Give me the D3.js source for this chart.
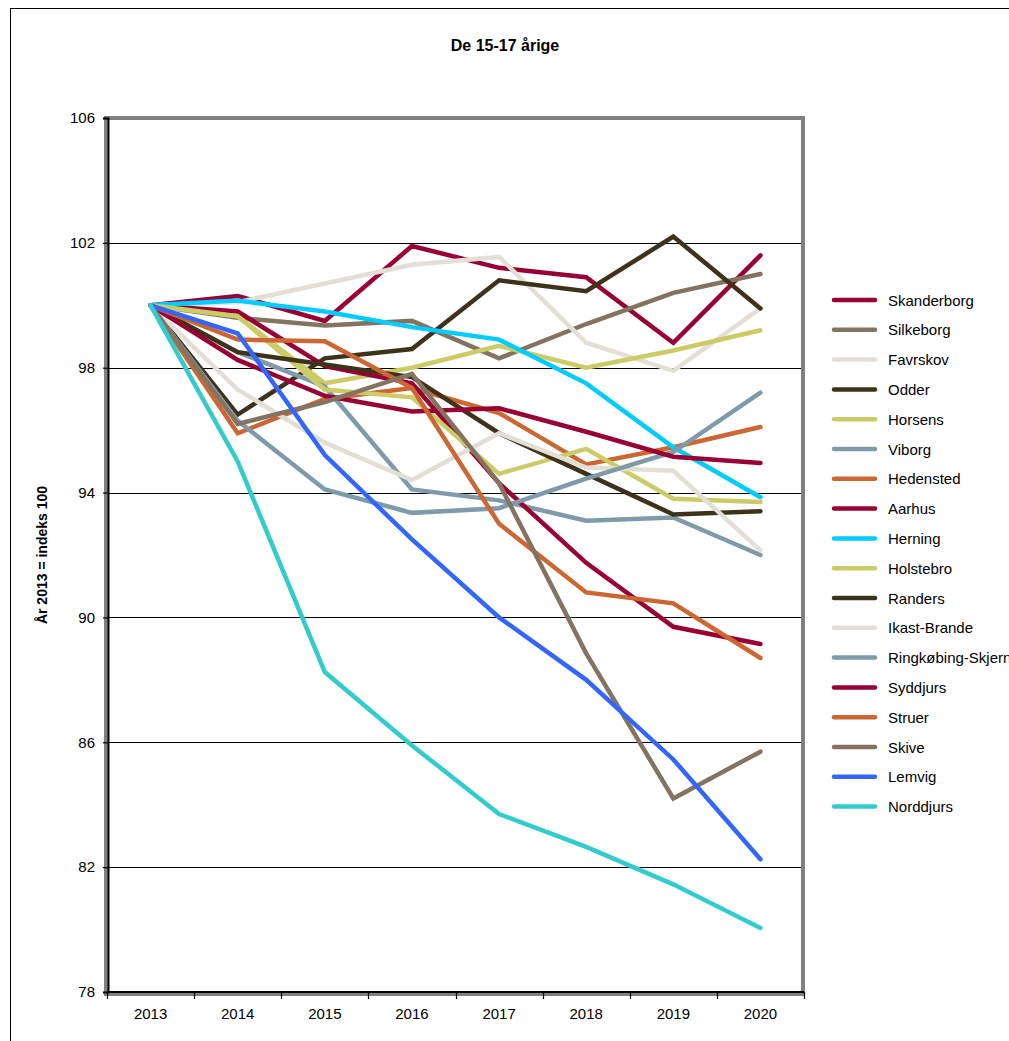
<!DOCTYPE html>
<html>
<head>
<meta charset="utf-8">
<script src="https://cdn.jsdelivr.net/npm/d3@7"></script>
<style>
  body { margin: 0; background: #fff; }
  svg text { font-family: "Liberation Sans", Arial, sans-serif; }
</style>
</head>
<body>
<script>
// chart data
var years = ["2013", "2014", "2015", "2016", "2017", "2018", "2019", "2020"];
var yTicks = [78, 82, 86, 90, 94, 98, 102, 106];

var names = ["Skanderborg", "Silkeborg", "Favrskov", "Odder", "Horsens", "Viborg",
             "Hedensted", "Aarhus", "Herning", "Holstebro", "Randers", "Ikast-Brande",
             "Ringkøbing-Skjern", "Syddjurs", "Struer", "Skive", "Lemvig", "Norddjurs"];

var colors = ["#990033", "#857361", "#e3dfd6", "#3e321a", "#cccc66", "#7f9aaa",
              "#cc6633", "#990033", "#00ccff", "#cccc66", "#3e321a", "#e3dfd6",
              "#7f9aaa", "#990033", "#cc6633", "#857361", "#3366ff", "#33cccc"];

var skanderborg = [100, 100.3, 99.5, 101.9, 101.2, 100.9, 98.8, 101.6];
var silkeborg   = [100, 99.6, 99.35, 99.5, 98.3, 99.4, 100.4, 101.0];
var favrskov    = [100, 100.1, 100.7, 101.3, 101.55, 98.8, 97.9, 99.9];
var odder       = [100, 96.5, 98.3, 98.6, 100.8, 100.45, 102.2, 99.9];
var horsens     = [100, 99.65, 97.5, 98.0, 98.7, 98.0, 98.55, 99.2];
var viborg      = [100, 98.5, 97.4, 94.1, 93.75, 93.1, 93.2, 92.0];
var hedensted   = [100, 95.9, 97.0, 97.35, 96.55, 94.9, 95.45, 96.1];
var aarhus      = [100, 99.8, 98.05, 97.5, 94.3, 91.75, 89.7, 89.15];
var herning     = [100, 100.15, 99.8, 99.3, 98.9, 97.5, 95.45, 93.85];
var holstebro   = [100, 99.65, 97.3, 97.05, 94.6, 95.4, 93.8, 93.7];
var randers     = [100, 98.5, 98.1, 97.7, 95.9, 94.6, 93.3, 93.4];
var ikastBrande = [100, 97.3, 95.6, 94.4, 95.9, 94.8, 94.7, 92.15];
var ringkobing  = [100, 96.3, 94.1, 93.35, 93.5, 94.45, 95.3, 97.2];
var syddjurs    = [100, 98.25, 97.1, 96.6, 96.7, 95.95, 95.15, 94.95];
var struer      = [100, 98.9, 98.85, 97.35, 93.0, 90.8, 90.45, 88.7];
var skive       = [100, 96.2, 96.9, 97.8, 94.3, 88.85, 84.2, 85.7];
var lemvig      = [100, 99.1, 95.2, 92.5, 90.0, 88.0, 85.45, 82.25];
var norddjurs   = [100, 95.0, 88.25, 85.9, 83.7, 82.65, 81.45, 80.05];

var values = [skanderborg, silkeborg, favrskov, odder, horsens, viborg, hedensted,
              aarhus, herning, holstebro, randers, ikastBrande, ringkobing, syddjurs,
              struer, skive, lemvig, norddjurs];

window.onload = function() {
    var width = 1009,
        height = 1041;

    var plot = {"left": 107, "right": 804, "top": 118, "bottom": 992};

    var svg = d3.select("body").append("svg")
        .attr("width", width)
        .attr("height", height);

    // outer chart frame
    svg.append("rect")
        .attr("x", 10.5)
        .attr("y", 8.5)
        .attr("width", 1020)
        .attr("height", 1060)
        .attr("fill", "none")
        .attr("stroke", "#000")
        .attr("stroke-width", 1);

    var x = d3.scaleBand()
        .domain(years)
        .range([plot.left, plot.right]);

    var y = d3.scaleLinear()
        .domain([78, 106])
        .range([plot.bottom, plot.top]);

    // gridlines
    svg.append("g")
        .selectAll("line")
        .data(yTicks.filter(function(d) { return d > 78 && d < 106; }))
        .enter()
        .append("line")
        .attr("x1", plot.left)
        .attr("x2", plot.right)
        .attr("y1", function(d) { return Math.round(y(d)) + 0.5; })
        .attr("y2", function(d) { return Math.round(y(d)) + 0.5; })
        .attr("stroke", "#000")
        .attr("stroke-width", 1.2);

    // grey plot frame
    svg.append("rect")
        .attr("x", plot.left - 1)
        .attr("y", plot.top)
        .attr("width", plot.right - plot.left)
        .attr("height", plot.bottom - plot.top + 2)
        .attr("fill", "none")
        .attr("stroke", "#808080")
        .attr("stroke-width", 4);

    // y axis
    var yAxis = d3.axisLeft(y)
        .tickValues(yTicks)
        .tickSize(5)
        .tickPadding(8);

    svg.append("g")
        .attr("class", "y-axis")
        .attr("transform", "translate(" + (plot.left + 1) + ",0)")
        .call(yAxis)
        .call(function(g) {
            g.select(".domain").attr("stroke", "#000").attr("stroke-width", 2);
            g.selectAll(".tick line").attr("stroke", "#000").attr("stroke-width", 1.2);
            g.selectAll("text").attr("fill", "#000").style("font-size", "15px");
        });

    // x axis, ticks sit on the band edges
    var edges = years.map(function(d) { return x(d); }).concat([plot.right]);

    var xg = svg.append("g")
        .attr("class", "x-axis");

    xg.append("line")
        .attr("x1", plot.left)
        .attr("x2", plot.right)
        .attr("y1", plot.bottom)
        .attr("y2", plot.bottom)
        .attr("stroke", "#000")
        .attr("stroke-width", 2);

    xg.selectAll(".tick")
        .data(edges)
        .enter()
        .append("line")
        .attr("x1", function(d) { return Math.round(d) + 0.5; })
        .attr("x2", function(d) { return Math.round(d) + 0.5; })
        .attr("y1", plot.bottom)
        .attr("y2", plot.bottom + 7)
        .attr("stroke", "#000")
        .attr("stroke-width", 1.2);

    xg.selectAll("text")
        .data(years)
        .enter()
        .append("text")
        .attr("x", function(d) { return x(d) + x.bandwidth() / 2; })
        .attr("y", plot.bottom + 27)
        .attr("text-anchor", "middle")
        .style("font-size", "15px")
        .text(function(d) { return d; });

    // lines
    var line = d3.line()
        .x(function(d, i) { return x(years[i]) + x.bandwidth() / 2; })
        .y(function(d) { return y(d); });

    svg.append("g")
        .selectAll("path")
        .data(values)
        .enter()
        .append("path")
        .attr("d", line)
        .attr("fill", "none")
        .attr("stroke", function(d, i) { return colors[i]; })
        .attr("stroke-width", 4.5)
        .attr("stroke-linecap", "round")
        .attr("stroke-linejoin", "miter");

    // title
    svg.append("text")
        .attr("x", 505)
        .attr("y", 51)
        .attr("text-anchor", "middle")
        .style("font-size", "16px")
        .style("font-weight", "bold")
        .text("De 15-17 årige");

    // y axis title
    svg.append("text")
        .attr("transform", "translate(47,555) rotate(-90)")
        .attr("text-anchor", "middle")
        .style("font-size", "14px")
        .style("font-weight", "bold")
        .text("År 2013 = indeks 100");

    // legend
    var legend = svg.selectAll(".legend")
        .data(names)
        .enter()
        .append("g")
        .attr("class", "legend")
        .attr("transform", function(d, i) {
            return "translate(0," + (300 + i * 29.8) + ")";
        });

    legend.append("line")
        .attr("x1", 834)
        .attr("x2", 875)
        .attr("stroke", function(d, i) { return colors[i]; })
        .attr("stroke-width", 4.5)
        .attr("stroke-linecap", "round");

    legend.append("text")
        .attr("x", 888)
        .attr("y", 5.5)
        .style("font-size", "15px")
        .text(function(d) { return d; });
};
</script>
</body>
</html>
